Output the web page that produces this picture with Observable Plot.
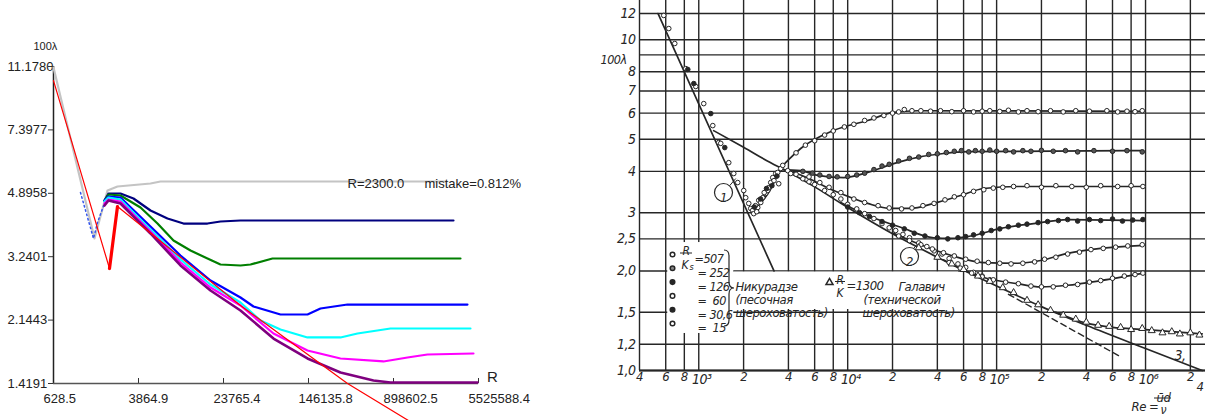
<!DOCTYPE html>
<html><head><meta charset="utf-8">
<script src="https://cdn.jsdelivr.net/npm/d3@7"></script>
<script src="https://cdn.jsdelivr.net/npm/@observablehq/plot@0.6"></script>
<style>
html,body{margin:0;padding:0;background:#fff;}
#wrap{position:relative;width:1205px;height:420px;overflow:hidden;background:#fff;}
#left{position:absolute;left:0;top:0;}
#right{position:absolute;left:600px;top:0;}
</style></head><body>
<div id="wrap"><div id="left"></div><div id="right"></div></div>
<script>
// ================= LEFT CHART: computed curves, (R, 100λ) =================
const leftXTicks = [628.5, 3864.9, 23765.4, 146135.8, 898602.5, 5525588.4];
const leftYTicks = [1.4191, 2.1443, 3.2401, 4.8958, 7.3977, 11.1780];
const greyCurve   = [[628.5,11.10],[1509,3.648],[1993,4.986],[2467,5.117],[4994,5.218],[6184,5.286],[2728000,5.286]];
const dottedBlue  = [[1119,4.921],[1477,3.648],[1609,4.048],[1909,4.672]];
const navyCurve   = [[1869,4.672],[2036,4.889],[2631,4.889],[3473,4.733],[4994,4.377],[7183,4.155],[10109,4.021],[16882,4.021],[22284,4.074],[34171,4.101],[3238000,4.101]];
const greenCurve  = [[1869,4.672],[2036,4.858],[2631,4.826],[4033,4.463],[5800,4.021],[8164,3.601],[11741,3.373],[16882,3.202],[22284,3.080],[34171,3.060],[42316,3.080],[67700,3.202],[3760000,3.202]];
const blueCurve   = [[1869,4.672],[2036,4.795],[2631,4.764],[4994,3.944],[9480,3.266],[18000,2.775],[34171,2.484],[45114,2.343],[80322,2.224],[143000,2.224],[188800,2.313],[336200,2.373],[4365000,2.373]];
const cyanCurve   = [[1869,4.641],[2036,4.764],[2631,4.702],[4994,3.868],[9480,3.182],[18000,2.704],[34171,2.405],[52392,2.139],[80322,2.017],[143000,1.915],[289400,1.915],[416200,1.965],[842100,2.030],[4654000,2.030]];
const magentaCurve= [[1869,4.581],[2036,4.702],[2631,4.641],[4994,3.818],[9480,3.120],[18000,2.651],[34171,2.358],[69166,1.965],[143000,1.759],[289400,1.670],[725300,1.638],[1211700,1.681],[1856000,1.714],[4962000,1.725]];
const purpleCurve = [[1869,4.522],[2036,4.672],[2631,4.581],[4994,3.769],[9480,3.060],[18000,2.600],[34171,2.283],[69166,1.902],[143000,1.670],[289400,1.525],[585900,1.447],[842100,1.428],[5405000,1.428]];
const redLaminar  = [[628.5,10.20],[2080,3.000]];
const redJump     = [[2080,3.000],[2467,4.493]];
const redTurbulent= [[2467,4.493],[34171,2.358],[336200,1.419],[1236400,1.115]];

// ================= RIGHT CHART: Nikuradse diagram (Re, 100λ) =================
const gridRe  = [400,600,800,1e3,2e3,4e3,6e3,8e3,1e4,2e4,4e4,6e4,8e4,1e5,2e5,4e5,6e5,8e5,1e6,2e6];
const gridLam = [1,1.2,1.5,2,2.5,3,4,5,6,7,8,9,10,12];
const lamTickVals = [1,1.2,1.5,2,2.5,3,4,5,6,7,8,10,12];
const lamTickText = ["1,0","1,2","1,5","2,0","2,5","3","4","5","6","7","8","10","12"];
const line1 = [[533,12.0],[3200,2.0]];
const line2 = [[1260,5.31],[2000,4.73],[3000,4.26],[4000,3.98],[6000,3.59],[1e4,3.11],[2e4,2.59],[4e4,2.20],[1e5,1.80],[2e5,1.56],[4e5,1.37],[1e6,1.165],[2.4e6,1.0]];
const blasiusDash = [[1.2e5,1.70],[6.8e5,1.10]];
const rough15  = [[2250,3.0],[2600,3.2],[3000,3.5],[3550,4.08],[4144,4.40],[4837,4.69],[8054,5.32],[13614,5.70],[20360,6.03],[29500,6.10],[9.7e5,6.07]];
const rough30  = [[3551,4.05],[4837,4.02],[6291,3.89],[9402,3.83],[13614,3.97],[20360,4.22],[29500,4.41],[44100,4.53],[63900,4.59],[9.7e5,4.62]];
const rough60  = [[4144,3.99],[4837,3.90],[8054,3.50],[13614,3.20],[19440,3.09],[26480,3.09],[37770,3.20],[57340,3.38],[81790,3.55],[138300,3.60],[9.7e5,3.60]];
const rough126 = [[8974,3.22],[13614,2.94],[22680,2.71],[37770,2.52],[49130,2.51],[70090,2.56],[106400,2.69],[177100,2.78],[299500,2.86],[9.7e5,2.84]];
const rough252 = [[20360,2.60],[29500,2.42],[49130,2.23],[81790,2.12],[138300,2.11],[197400,2.15],[299500,2.26],[499000,2.34],[9.7e5,2.39]];
const rough507 = [[44100,2.16],[63900,1.99],[81790,1.91],[138300,1.83],[197400,1.79],[299500,1.81],[499000,1.87],[9.7e5,1.97]];
const galavichLine = [[2.5e5,1.50],[4e5,1.39],[6e5,1.35],[1e6,1.33],[1.5e6,1.31],[2.4e6,1.29]];

// measured points
const lamPtsOpen   = [[582,11.84],[629,10.81],[690,9.74],[818,8.18],[955,7.22],[1080,6.41],[1242,5.50],[1362,4.89],[1405,4.86],[1590,4.25],[1718,3.94],[1827,3.70],[2004,3.50],[2067,3.33],[2166,3.20]];
const lamPtsFilled = [[844,8.13],[926,7.37],[1204,5.98],[1495,4.72]];
const transOpen    = [[2234,3.09],[2304,3.05],[2340,2.98],[2489,3.11],[2527,3.27],[2607,3.22],[2689,3.33],[2817,3.43],[2905,3.50],[2950,3.57],[3042,3.70],[3138,3.83],[3287,3.94],[3390,3.97],[3443,3.67],[3551,4.08],[3663,4.17],[3956,4.02],[4144,3.94],[2400,3.15],[2750,3.45],[3200,3.75],[2450,3.02]];
const transFilled  = [[2360,3.12],[2600,3.30],[2850,3.55],[3100,3.62],[3350,3.87]];
const pts15  = [[4500,4.55],[5200,4.8],[6000,4.95],[7000,5.15],[8000,5.3],[9500,5.45],[11000,5.55],[13000,5.7],[15000,5.8],[17500,5.9],[20000,6.0],[22000,6.05],[24000,6.15],[27000,6.1],[31000,6.1],[36000,6.08],[42000,6.1],[50000,6.06],[60000,6.1],[70000,6.05],[80000,6.08],[90000,6.1],[1.05e5,6.07],[1.2e5,6.12],[1.4e5,6.05],[1.6e5,6.1],[1.9e5,6.06],[2.3e5,6.1],[2.8e5,6.05],[3.4e5,6.1],[4.2e5,6.08],[5.5e5,6.1],[6.5e5,6.05],[7.5e5,6.08],[8.5e5,6.06],[9.5e5,6.1]];
const pts30  = [[5000,4.0],[5800,3.95],[6500,3.9],[7500,3.86],[8500,3.85],[10000,3.86],[11500,3.9],[13000,3.95],[15000,4.05],[17000,4.15],[19000,4.2],[22000,4.3],[26000,4.38],[30000,4.42],[35000,4.5],[40000,4.52],[46000,4.56],[52000,4.6],[58000,4.62],[65000,4.58],[72000,4.62],[80000,4.6],[90000,4.64],[1.0e5,4.6],[1.15e5,4.62],[1.3e5,4.58],[1.5e5,4.62],[1.7e5,4.6],[2.0e5,4.63],[2.4e5,4.6],[2.9e5,4.62],[3.5e5,4.58],[4.5e5,4.62],[6.0e5,4.6],[7.5e5,4.62],[9.5e5,4.58]];
const pts60  = [[5500,3.85],[6500,3.7],[7500,3.58],[9000,3.45],[11000,3.3],[13000,3.22],[16000,3.15],[19000,3.1],[23000,3.08],[27000,3.1],[32000,3.15],[38000,3.2],[45000,3.28],[52000,3.35],[60000,3.4],[70000,3.48],[82000,3.52],[95000,3.56],[1.1e5,3.58],[1.3e5,3.6],[1.6e5,3.62],[2.0e5,3.58],[2.5e5,3.62],[3.2e5,3.6],[4.0e5,3.58],[5.0e5,3.62],[6.5e5,3.6],[8.0e5,3.62],[9.6e5,3.6]];
const pts126 = [[10000,3.12],[12000,3.0],[14000,2.92],[17000,2.82],[20000,2.75],[24000,2.68],[28000,2.6],[33000,2.55],[40000,2.52],[47000,2.5],[55000,2.52],[62000,2.54],[70000,2.57],[80000,2.6],[92000,2.65],[1.05e5,2.68],[1.2e5,2.72],[1.4e5,2.75],[1.6e5,2.77],[1.9e5,2.8],[2.2e5,2.82],[2.6e5,2.84],[3.0e5,2.86],[3.5e5,2.83],[4.2e5,2.86],[5.0e5,2.84],[6.0e5,2.87],[7.0e5,2.83],[8.2e5,2.85],[9.6e5,2.86]];
const pts252 = [[22000,2.55],[26000,2.47],[31000,2.4],[37000,2.33],[44000,2.27],[52000,2.22],[62000,2.17],[74000,2.14],[88000,2.12],[1.05e5,2.11],[1.25e5,2.1],[1.5e5,2.11],[1.8e5,2.13],[2.1e5,2.17],[2.5e5,2.2],[3.0e5,2.25],[3.6e5,2.28],[4.3e5,2.32],[5.2e5,2.34],[6.3e5,2.36],[7.6e5,2.38],[9.5e5,2.4]];
const pts507 = [[40000,2.2],[48000,2.12],[57000,2.04],[68000,1.97],[80000,1.92],[95000,1.88],[1.15e5,1.85],[1.4e5,1.83],[1.7e5,1.8],[2.0e5,1.79],[2.4e5,1.79],[2.9e5,1.81],[3.5e5,1.82],[4.2e5,1.85],[5.0e5,1.87],[6.0e5,1.9],[7.2e5,1.93],[8.5e5,1.95],[9.6e5,1.97]];
const ptsSmooth = [[4500,3.92],[5000,3.8],[5500,3.72],[6000,3.65],[7000,3.5],[8000,3.4],[9000,3.3],[10000,3.18],[11500,3.08],[13000,2.98],[15000,2.88],[17000,2.78],[19000,2.7],[21000,2.65],[23500,2.58],[26000,2.52],[30000,2.43],[34000,2.37],[38000,2.3],[43000,2.25],[48000,2.18],[55000,2.1],[62000,2.05],[70000,1.98],[80000,1.93],[90000,1.88]];
const ptsGalavich = [[30000,2.35],[40000,2.2],[50000,2.1],[60000,2.02],[75000,1.93],[90000,1.86],[1.1e5,1.78],[1.3e5,1.72],[1.6e5,1.63],[1.9e5,1.58],[2.3e5,1.52],[2.8e5,1.47],[3.4e5,1.43],[4.0e5,1.4],[4.8e5,1.37],[5.7e5,1.36],[6.8e5,1.35],[8.0e5,1.33],[9.5e5,1.34],[1.1e6,1.32],[1.3e6,1.3],[1.5e6,1.31],[1.7e6,1.29],[2.0e6,1.3],[2.3e6,1.28]];
const legendRatios = ["=507","= 252","= 126","=  60","= 30,6","=  15"];
// white boxes behind the legend texts (Re, 100λ)
const maskBoxes = [{x1:619,x2:1718,y1:1.294,y2:2.437},{x1:1718,x2:55590,y1:1.529,y2:1.985}];
// leader lines of the circled labels
const leaders = [{x1:1615,y1:3.625,x2:1772,y2:3.805},{x1:27730,y1:2.338,x2:30420,y2:2.455}];

const P = a => a.map(([x,y]) => ({x,y}));

// ---------------- LEFT PLOT ----------------
const lw = (arr, stroke, w, extra={}) => Plot.line(P(arr), {x:"x", y:"y", stroke, strokeWidth:w, ...extra});
const left = Plot.plot({
  width: 560, height: 420,
  marginLeft: 53, marginRight: 82, marginTop: 66, marginBottom: 37,
  x: {type: "log", domain: [628.5, 5525588.4], axis: null},
  y: {type: "log", domain: [1.4191, 11.178], axis: null},
  style: {fontFamily: "'Liberation Sans', Arial, sans-serif", fontSize: "13px", color: "#222", background: "transparent"},
  marks: [
    Plot.tickY(leftYTicks, {y: d => d, insetRight: 420, dx: -5, stroke: "#333"}),
    Plot.text(leftYTicks, {y: d => d, frameAnchor: "left", dx: -46, textAnchor: "start", text: d => d.toFixed(4)}),
    Plot.tickX(leftXTicks.slice(1), {x: d => d, insetTop: 312, stroke: "#333"}),
    Plot.text(leftXTicks, {x: d => d, frameAnchor: "bottom", dy: 19, dx: -10, textAnchor: "start", text: d => d.toFixed(1)}),
    Plot.ruleX([628.5], {stroke: "#222", strokeWidth: 1.5}),
    Plot.ruleY([1.4191], {stroke: "#555", strokeWidth: 1.5}),
    lw(greyCurve, "#c4c4c4", 2.2),
    lw(dottedBlue, "#3355ee", 1.5, {strokeDasharray: "1.5,3"}),
    lw(navyCurve, "#00007f", 2.2),
    lw(greenCurve, "#007f00", 2.2),
    lw(blueCurve, "#0000ff", 2.2),
    lw(cyanCurve, "#00ffff", 2.2),
    lw(magentaCurve, "#ff00ff", 2.2),
    lw(purpleCurve, "#7f007f", 2.6),
    lw(redLaminar, "#ff0000", 1.2),
    lw(redJump, "#ff0000", 3.2),
    lw(redTurbulent, "#ff0000", 1.2),
    Plot.text(["100λ"], {frameAnchor: "top-left", dx: -20, dy: -24, fontSize: 11}),
    Plot.text(["R"], {frameAnchor: "bottom-right", dx: 14, dy: -2, fontSize: 15, textAnchor: "middle"}),
    Plot.text(["R=2300.0"], {frameAnchor: "top-left", dx: 294, dy: 112, textAnchor: "start", fontSize: 13}),
    Plot.text(["mistake=0.812%"], {frameAnchor: "top-left", dx: 371, dy: 112, textAnchor: "start", fontSize: 13})
  ]
});
document.getElementById("left").appendChild(left);

// ---------------- RIGHT PLOT ----------------
const lamLabel = new Map(lamTickVals.map((v,i) => [v, lamTickText[i]]));
const sup = {"2":"²","3":"³","4":"⁴","5":"⁵","6":"⁶"};
const isDecade = d => Math.abs(Math.log10(d) - Math.round(Math.log10(d))) < 1e-9;
const fmtRe = d => { const e = Math.floor(Math.log10(d) + 1e-9); const m = Math.round(d / Math.pow(10, e)); return m === 1 ? "10" + sup[e] : String(m); };
const ink = "#262626";
const dots = (arr, fill, extra={}) => Plot.dot(P(arr), {x:"x", y:"y", r: 2.3, stroke: ink, strokeWidth: 1, fill, ...extra});
const rl = (arr, extra={}) => Plot.line(P(arr), {x:"x", y:"y", stroke: ink, strokeWidth: 1.7, curve: "monotone-x", ...extra});
const FX = 639; // frame left on the page
const T = (txt, x, y, extra={}) => Plot.text([txt], {frameAnchor: "top-left", dx: x - FX, dy: y, textAnchor: "start", ...extra});
const legendMarks = [];
const legendFills = ["white", "#888", ink, "white", ink, "white"];
legendRatios.forEach((t, i) => {
  const y = 254 + i * 13.8;
  legendMarks.push(Plot.dot([0], {frameAnchor: "top-left", dx: 672 - FX, dy: y, r: 2.3, stroke: ink, fill: legendFills[i]}));
  legendMarks.push(T(t, i === 0 ? 694 : 697, y, {fontSize: 12.5}));
});
const right = Plot.plot({
  width: 605, height: 420,
  marginLeft: 39, marginRight: 0, marginTop: 0, marginBottom: 50,
  x: {type: "log", domain: [400, 2.527e6], axis: null},
  y: {type: "log", domain: [1, 13.14], axis: null},
  style: {fontFamily: "'Liberation Sans Narrow','DejaVu Sans Condensed','Liberation Sans',sans-serif", fontStyle: "italic", fontSize: "13px", letterSpacing: "-0.5px", color: ink, background: "transparent"},
  marks: [
    Plot.ruleX(gridRe, {stroke: ink, strokeWidth: 1.4}),
    Plot.ruleY(gridLam, {stroke: ink, strokeWidth: 1.4}),
    Plot.ruleY([1], {stroke: ink, strokeWidth: 2}),
    Plot.rect(maskBoxes, {x1: "x1", x2: "x2", y1: "y1", y2: "y2", fill: "white"}),
    Plot.text(gridRe.filter(d => !isDecade(d)), {x: d => d, frameAnchor: "bottom", dy: 10, text: fmtRe, fontSize: 13}),
    Plot.text(gridRe.filter(isDecade), {x: d => d, frameAnchor: "bottom", dy: 13, dx: 3, text: fmtRe, fontSize: 14}),
    Plot.text(lamTickVals, {y: d => d, frameAnchor: "left", dx: -4, textAnchor: "end", text: d => lamLabel.get(d), fontSize: 14}),
    rl(line1, {curve: "linear"}),
    rl(line2),
    rl(blasiusDash, {curve: "linear", strokeDasharray: "6,4", strokeWidth: 1.4}),
    rl(rough15), rl(rough30), rl(rough60), rl(rough126), rl(rough252), rl(rough507), rl(galavichLine),
    Plot.link(leaders, {x1: "x1", y1: "y1", x2: "x2", y2: "y2", stroke: ink, strokeWidth: 1}),
    dots(lamPtsOpen, "white"), dots(lamPtsFilled, ink),
    dots(transOpen, "white"), dots(transFilled, ink),
    dots(ptsSmooth, "white"),
    dots(pts15, "white"), dots(pts30, "#555"), dots(pts60, "white"),
    dots(pts126, ink), dots(pts252, "white"), dots(pts507, "white"),
    dots(ptsGalavich, "white", {symbol: "triangle", r: 2.6}),
    // circled labels
    Plot.dot([0], {frameAnchor: "top-left", dx: 723 - FX, dy: 192, r: 9, stroke: ink, strokeWidth: 1.2, fill: "white"}),
    T("1", 723, 192, {textAnchor: "middle"}),
    Plot.dot([0], {frameAnchor: "top-left", dx: 909 - FX, dy: 256, r: 9, stroke: ink, strokeWidth: 1.2, fill: "white"}),
    T("2", 909, 256, {textAnchor: "middle"}),
    T("3,", 1174, 350, {fontSize: 14}),
    T("100λ", 600, 55, {fontSize: 12.5}),
    // legend
    T("R", 682, 246, {fontSize: 12}),
    T("K", 681, 260, {fontSize: 12}),
    T("s", 689, 263, {fontSize: 9}),
    ...legendMarks,
    T("Никурадзе", 735, 281),
    T("(песочная", 735, 294),
    T("шероховатость)", 735, 307),
    Plot.dot([0], {frameAnchor: "top-left", dx: 829 - FX, dy: 282, r: 2.6, symbol: "triangle", stroke: ink, fill: "white"}),
    T("R", 836, 275, {fontSize: 12}),
    T("K", 836, 288, {fontSize: 12}),
    T("=1300", 846, 280),
    T("Галавич", 898, 281),
    T("(технической", 863, 294),
    T("шероховатость)", 862, 307),
    // x-axis name
    T("Re =", 1131, 401),
    T("ūd", 1156, 392),
    T("ν", 1160, 405, {fontSize: 12}),
    T("4", 1196, 381, {fontSize: 13})
  ]
});
document.getElementById("right").appendChild(right);
// fraction bars and legend brace (decorations)
const rs = d3.select(right);
rs.append("path").attr("d", "M124,250 q5,0 5,6 v26 q0,6 5,6 q-5,0 -5,6 v26 q0,6 -5,6").attr("fill","none").attr("stroke",ink).attr("stroke-width",1.2);
rs.append("line").attr("x1",80).attr("x2",92).attr("y1",253).attr("y2",253).attr("stroke",ink).attr("stroke-width",1);
rs.append("line").attr("x1",235).attr("x2",245).attr("y1",281.5).attr("y2",281.5).attr("stroke",ink).attr("stroke-width",1);
rs.append("line").attr("x1",554).attr("x2",571).attr("y1",398).attr("y2",398).attr("stroke",ink).attr("stroke-width",1);
</script>
</body></html>
